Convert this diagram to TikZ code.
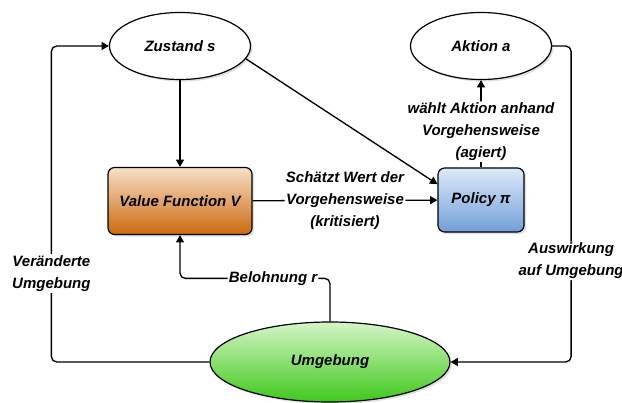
\documentclass[tikz,border=0pt]{standalone}
\usepackage{fontspec}
\setmainfont{Liberation Sans}
\usetikzlibrary{arrows.meta,shapes.geometric,shadows}
\definecolor{vfoben}{HTML}{F6DEC8}\definecolor{vfunten}{HTML}{CC6A0E}
\definecolor{poloben}{HTML}{DDE9F8}\definecolor{polunten}{HTML}{729FD8}
\definecolor{umgoben}{HTML}{D5F5C8}\definecolor{umgunten}{HTML}{3FC81A}
\tikzset{
 schatten/.style={drop shadow={shadow xshift=1.5pt,shadow yshift=-1.5pt,opacity=.25}},
 zustandoval/.style={ellipse,draw,line width=.9pt,fill=white,schatten,minimum width=105.75pt,minimum height=50.25pt},
 kasten/.style={draw,line width=.9pt,rounded corners=5pt,schatten},
 conn/.style={line width=1pt,rounded corners=4pt,-{Triangle[length=5.5pt,width=6pt]}},
 lbl/.style={fill=white,inner sep=1pt,align=center}
}
\begin{document}
\begin{tikzpicture}[x=.75pt,y=-.75pt,font=\fontsize{11.25}{16.5}\selectfont\bfseries\itshape]
 \useasboundingbox (0,0) rectangle (622,403);
 \node[zustandoval] (zustand) at (180,46) {Zustand s};
 \node[zustandoval] (aktion) at (481,46) {Aktion a};
 \node[kasten,top color=vfoben,bottom color=vfunten,minimum width=108pt,minimum height=50.25pt] (value) at (180,201) {Value Function V};
 \node[kasten,top color=poloben,bottom color=polunten,minimum width=64.5pt,minimum height=48pt] (policy) at (481,200) {Policy π};
 \node[ellipse,draw,line width=.9pt,schatten,top color=umgoben,bottom color=umgunten,minimum width=180pt,minimum height=60pt] (umgebung) at (330,362) {Umgebung};
 % Kanten
 \draw[conn] (zustand) -- (value);
 \draw[conn] (zustand.-11) -- (policy.160);
 \draw[conn] (value) -- node[lbl] {Schätzt Wert der\\Vorgehensweise\\(kritisiert)} (policy);
 \draw[conn] (policy) -- node[lbl,pos=.41] {wählt Aktion anhand\\Vorgehensweise\\(agiert)} (aktion);
 \draw[conn] (aktion.east) -- ++(19,0) |- node[lbl,pos=.34] {Auswirkung\\auf Umgebung} (umgebung.east);
 \draw[conn] (umgebung.west) -- ++(-158,0) |- node[lbl,pos=.14] {Veränderte\\Umgebung} (zustand.west);
 \draw[conn] (umgebung.north) -- ++(0,-43) -| node[lbl,pos=.19] {Belohnung r} (value.south);
\end{tikzpicture}
\end{document}
